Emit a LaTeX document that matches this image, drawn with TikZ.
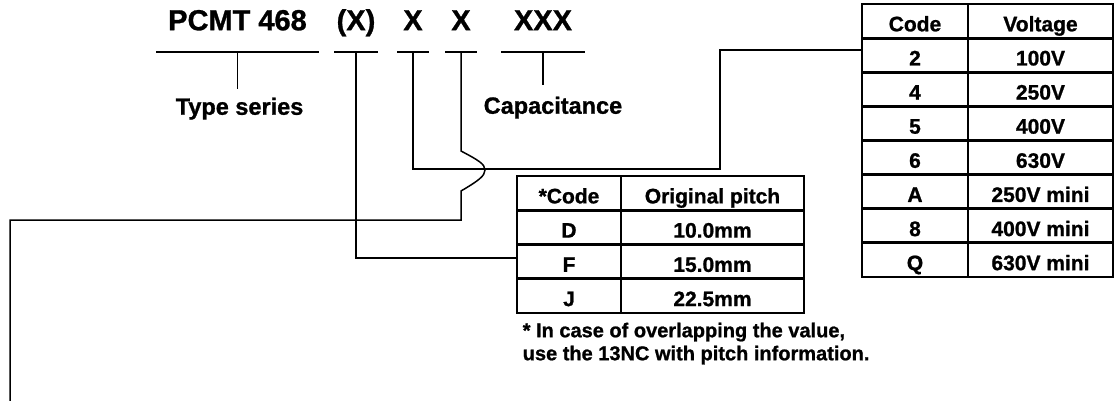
\documentclass[tikz,border=0pt]{standalone}
\usepackage{fontspec}
\setmainfont{Liberation Sans}[BoldFeatures={FakeBold=1}]
\usetikzlibrary{positioning, calc}

\begin{document}
\begin{tikzpicture}[x=1pt, y=-1pt, on grid, node distance=34.125pt, line width=1.5pt]
    \tikzstyle{part}=[font=\fontsize{29}{31}\selectfont\bfseries, inner xsep=0pt, inner ysep=21pt, text depth=0pt, anchor=south]
    \tikzstyle{lbl}=[font=\fontsize{23.5}{25}\selectfont\bfseries, inner sep=0pt, text height=17pt, anchor=north west]
    \tikzstyle{cell}=[draw, line width=2.8pt, inner sep=0pt, outer sep=0pt, text height=20.5pt, text depth=0pt, font=\fontsize{21}{22}\selectfont\bfseries]
    \tikzstyle{vcode}=[cell, minimum width=106pt, minimum height=34.125pt]
    \tikzstyle{vval}=[cell, minimum width=145pt, minimum height=34.125pt]
    \tikzstyle{pcode}=[cell, minimum width=104pt, minimum height=34.25pt]
    \tikzstyle{pval}=[cell, minimum width=183pt, minimum height=34.25pt]
    \tikzstyle{note}=[font=\fontsize{20}{23}\selectfont\bfseries, inner sep=0pt, align=left, anchor=north west]

    \useasboundingbox (0,0) rectangle (1116,401);

    % order code
    \node[part, minimum width=161pt] (type) at (237.5,52) {PCMT 468};
    \node[part, minimum width=42pt] (pitch) at (356,52) {(X)};
    \node[part, minimum width=30pt] (volt) at (413,52) {X};
    \node[part, minimum width=30pt] (lead) at (461,52) {X};
    \node[part, minimum width=82pt] (cap) at (543,52) {XXX};

    \node[lbl] (typelbl) at (175,97) {Type series};
    \node[lbl] (caplbl) at (483,96) {Capacitance};

    % voltage table
    \node[vcode] (vc0) at (915,21.06) {Code};
    \node[vval, right=125.5pt of vc0] (vv0) {Voltage};
    \node[vcode, below=of vc0] (vc1) {2};
    \node[vval, right=125.5pt of vc1] (vv1) {100V};
    \node[vcode, below=of vc1] (vc2) {4};
    \node[vval, right=125.5pt of vc2] (vv2) {250V};
    \node[vcode, below=of vc2] (vc3) {5};
    \node[vval, right=125.5pt of vc3] (vv3) {400V};
    \node[vcode, below=of vc3] (vc4) {6};
    \node[vval, right=125.5pt of vc4] (vv4) {630V};
    \node[vcode, below=of vc4] (vc5) {A};
    \node[vval, right=125.5pt of vc5] (vv5) {250V mini};
    \node[vcode, below=of vc5] (vc6) {8};
    \node[vval, right=125.5pt of vc6] (vv6) {400V mini};
    \node[vcode, below=of vc6] (vc7) {Q};
    \node[vval, right=125.5pt of vc7] (vv7) {630V mini};

    % pitch table
    \node[pcode] (pc0) at (569,193.125) {*Code};
    \node[pval, right=143.5pt of pc0] (pv0) {Original pitch};
    \node[pcode, below=34.25pt of pc0] (pc1) {D};
    \node[pval, right=143.5pt of pc1] (pv1) {10.0mm};
    \node[pcode, below=34.25pt of pc1] (pc2) {F};
    \node[pval, right=143.5pt of pc2] (pv2) {15.0mm};
    \node[pcode, below=34.25pt of pc2] (pc3) {J};
    \node[pval, right=143.5pt of pc3] (pv3) {22.5mm};

    \node[note] (note) at (522,322) {* In case of overlapping the value,\\use the 13NC with pitch information.};

    \coordinate (vbend) at (720,169);
    \coordinate (hop) at (485,170);
    \coordinate (leadend) at (10,401);

    \foreach \n in {type, pitch, volt, lead, cap}
        \draw (\n.south west) -- (\n.south east);

    \draw (type.south) -- ([yshift=8pt]type.south |- typelbl.north);
    \draw (cap.south) -- ([yshift=11pt]cap.south |- caplbl.north);

    \draw (pitch.south) |- ([yshift=3.6pt]pc2.west);
    \draw (volt.south) |- (vbend) |- ([yshift=5.2pt]vc1.west);
    \draw (lead.south) -- (461,151) .. controls (478,160) and (485,164) .. (hop)
          .. controls (485,176) and (478,181) .. (461,191) -- (461,220) -| (leadend);
\end{tikzpicture}
\end{document}
